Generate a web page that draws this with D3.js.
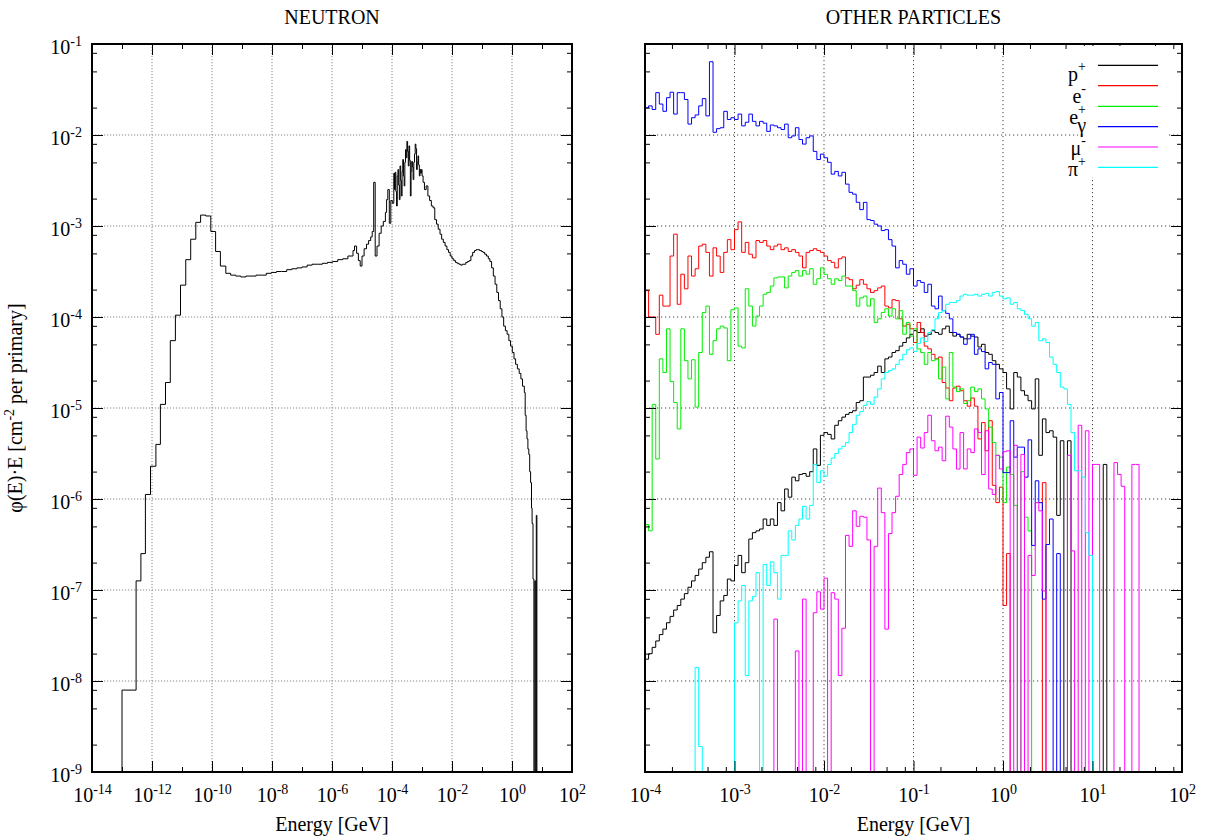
<!DOCTYPE html>
<html><head><meta charset="utf-8">
<script src="https://cdn.jsdelivr.net/npm/d3@7"></script>
<style>
body{margin:0;background:#fff;}
svg text{font-family:"Liberation Serif","Times New Roman",serif;fill:#000;}
</style>
</head><body>
<svg id="chart" width="1213" height="840"></svg>
<script>
// ---------------- DATA ----------------
// Left panel: neutron spectrum, bin lower edges (log10 E/GeV) and log10 of phi(E)*E
const neutronEdgeExp = [
-13.00,-12.53,-12.37,-12.22,-12.05,-11.87,-11.72,-11.55,-11.39,-11.22,
-11.05,-10.875,-10.71,-10.54,-10.38,-10.21,-10.04,-9.88,-9.72,-9.54,
-9.38,-9.21,-9.04,-8.87,-8.70,-8.53,-8.36,-8.19,-8.02,-7.85,
-7.68,-7.51,-7.34,-7.17,-7.00,-6.83,-6.66,-6.49,-6.32,-6.15,
-5.98,-5.81,-5.64,-5.47,-5.30,-5.25,-5.18,-5.12,-5.06,-5.00,
-4.93,-4.85,-4.78,-4.71,-4.66,-4.61,-4.56,-4.50,-4.43,-4.36,
-4.29,-4.22,-4.18,-4.14,-4.09,-4.04,-3.99,
-3.94,-3.917,-3.894,-3.871,-3.848,-3.825,-3.802,-3.779,-3.756,-3.733,
-3.71,-3.687,-3.664,-3.641,-3.618,-3.595,-3.572,-3.549,-3.526,-3.503,
-3.48,-3.457,-3.434,-3.411,-3.388,-3.365,-3.342,-3.319,-3.296,-3.273,
-3.25,-3.227,-3.204,-3.181,-3.158,-3.135,-3.112,-3.089,-3.066,-3.043,
-3.02,-2.997,-2.964,-2.918,-2.861,-2.804,-2.746,-2.689,-2.63,-2.574,
-2.516,-2.459,-2.40,-2.345,-2.29,-2.23,-2.17,-2.115,-2.06,-2.00,
-1.94,-1.885,-1.83,-1.77,-1.71,-1.656,-1.60,-1.54,-1.48,-1.426,
-1.37,-1.311,-1.25,-1.196,-1.14,-1.082,-1.02,-0.967,-0.91,-0.852,
-0.79,-0.737,-0.68,-0.622,-0.565,-0.507,-0.45,-0.393,-0.335,-0.278,
-0.22,-0.163,-0.105,-0.048,0.01,0.067,0.12,0.18,0.24,0.296,
0.35,0.411,0.44,0.47,0.50,0.53,0.56,0.59,0.62,0.65,
0.67,0.70,0.73,0.76,0.79,0.81,0.83
];
const neutronLastEdgeExp = 0.85;
const neutronLogPhi = [
-8.10,-6.90,-6.60,-5.95,-5.64,-5.40,-4.96,-4.72,-4.26,-3.98,
-3.65,-3.37,-3.145,-2.96,-2.88,-2.89,-3.06,-3.28,-3.44,-3.52,
-3.54,-3.55,-3.56,-3.55,-3.55,-3.54,-3.54,-3.52,-3.51,-3.50,
-3.50,-3.48,-3.47,-3.46,-3.45,-3.43,-3.42,-3.42,-3.41,-3.40,
-3.39,-3.37,-3.36,-3.33,-3.27,-3.22,-3.30,-3.38,-3.44,-3.33,
-3.25,-3.20,-3.16,-3.12,-3.06,-2.52,-3.33,-3.22,-3.08,-3.00,
-2.95,-2.85,-2.71,-2.60,-2.97,-2.72,-2.75,
-2.42,-2.60,-2.41,-2.62,-2.78,-2.45,-2.38,-2.55,-2.71,-2.34,
-2.50,-2.67,-2.40,-2.27,-2.45,-2.56,-2.30,-2.16,-2.25,-2.07,
-2.18,-2.34,-2.12,-2.28,-2.67,-2.40,-2.29,-2.35,-2.49,-2.30,
-2.21,-2.10,-2.15,-2.38,-2.30,-2.23,-2.33,-2.45,-2.38,-2.42,
-2.38,-2.45,-2.52,-2.60,-2.56,-2.67,-2.72,-2.78,-2.80,-2.93,
-2.98,-3.035,-3.09,-3.145,-3.18,-3.22,-3.26,-3.29,-3.33,-3.36,
-3.38,-3.40,-3.41,-3.42,-3.43,-3.42,-3.42,-3.40,-3.39,-3.38,
-3.33,-3.29,-3.27,-3.26,-3.26,-3.27,-3.28,-3.29,-3.31,-3.33,
-3.36,-3.39,-3.46,-3.55,-3.64,-3.73,-3.82,-3.91,-4.00,-4.10,
-4.15,-4.19,-4.26,-4.32,-4.39,-4.46,-4.52,-4.57,-4.62,-4.68,
-4.76,-4.83,-5.08,-5.25,-5.34,-5.45,-5.51,-5.70,-5.82,-6.10,
-6.27,-6.88,null,-6.90,null,-6.18,null
];

// Right panel: 25 bins per decade starting at 1e-4 GeV; values are log10 of phi(E)*E, null = empty bin
const otherBinStartExp = -4;
const otherBinWidthExp = 0.04;
const protonLog = [
-7.76,-7.70,-7.63,-7.56,-7.49,-7.43,-7.36,-7.29,-7.22,-7.17,
-7.10,-7.04,-6.97,-6.90,-6.84,-6.77,-6.70,-6.64,-6.58,-7.47,
-7.28,-7.12,-7.06,-6.88,-6.90,-6.73,-6.62,-6.81,-6.70,-6.44,
-6.37,-6.35,-6.33,-6.22,-6.29,-6.22,-6.29,-6.04,-6.13,-5.89,
-5.98,-5.76,-5.80,-5.73,-5.72,-5.75,-5.70,-5.45,-5.63,-5.30,
-5.27,-5.29,-5.34,-5.19,-5.14,-5.10,-5.07,-5.05,-5.03,-4.94,
-4.92,-4.66,-4.66,-4.64,-4.61,-4.54,-4.61,-4.46,-4.44,-4.39,
-4.37,-4.32,-4.28,-4.23,-4.19,-4.15,-4.17,-4.13,-4.21,-4.19,
-4.15,-4.17,-4.19,-4.13,-4.10,-4.17,-4.21,-4.19,-4.22,-4.24,
-4.19,-4.21,-4.22,-4.33,-4.30,-4.39,-4.41,-4.48,-4.52,-4.57,
-4.61,-4.79,-5.01,-4.61,-4.66,-4.81,-4.86,-4.92,-5.01,-4.68,
-5.52,-5.12,-5.27,-5.25,-5.32,-6.18,-5.36,null,-5.36,null,
null,null,null,null,null,null,null,null,-5.62,null,
null,null,null,null,null,null,null,null,null,null
];
const electronLog = [
-3.71,-4.00,-4.00,-4.19,-3.76,-3.88,-3.88,-3.33,-3.09,-3.86,
-3.53,-3.69,-3.33,-3.55,-3.47,-3.22,-3.20,-3.29,-3.55,-3.24,
-3.33,-3.51,-3.29,-3.15,-3.26,-3.04,-2.955,-3.29,-3.18,-3.31,
-3.35,-3.16,-3.18,-3.16,-3.22,-3.26,-3.22,-3.20,-3.26,-3.24,
-3.28,-3.26,-3.29,-3.33,-3.46,-3.29,-3.27,-3.25,-3.27,-3.29,
-3.33,-3.38,-3.40,-3.46,-3.36,-3.34,-3.57,-3.59,-3.69,-3.65,
-3.59,-3.64,-3.69,-3.73,-3.71,-3.68,-3.66,-3.88,-3.90,-3.81,
-3.82,-4.02,-4.10,-4.08,-4.13,-4.28,-4.06,-4.17,-4.32,-4.35,
-4.41,-4.46,-4.44,-4.72,-4.78,-4.92,-4.78,-4.76,-4.81,-4.92,
-4.98,-4.89,-4.98,-5.34,-5.16,-5.47,-5.14,-5.85,-6.04,-5.87,
-7.17,-6.60,null,null,null,null,null,null,null,null,
null,-5.82,null,null,null,null,null,null,null,null,
null,null,null,null,null,null,null,null,null,null,
null,null,null,null,null,null,null,null,null,null
];
const positronLog = [
-6.28,-6.35,-4.96,-5.56,-4.46,-4.61,-4.13,-4.71,-4.94,-5.23,
-4.13,-4.48,-4.68,-4.47,-4.99,-4.39,-3.95,-3.88,-4.41,-4.26,
-4.13,-4.10,-4.12,-4.48,-3.92,-3.90,-4.32,-4.34,-3.69,-3.88,
-4.10,-3.99,-3.88,-3.75,-3.73,-3.66,-3.57,-3.56,-3.56,-3.68,
-3.55,-3.51,-3.49,-3.55,-3.49,-3.53,-3.47,-3.64,-3.58,-3.46,
-3.53,-3.58,-3.64,-3.58,-3.60,-3.55,-3.66,-3.66,-3.71,-3.88,
-3.79,-3.77,-3.88,-3.80,-4.06,-4.02,-3.95,-3.91,-3.99,-3.91,
-4.02,-3.93,-4.19,-4.06,-4.21,-4.13,-4.35,-4.39,-4.52,-4.39,
-4.48,-4.46,-4.68,-4.55,-4.90,-4.39,-4.77,-4.82,-4.79,-4.95,
-4.92,-4.77,-4.82,-4.79,-4.90,-5.01,-5.21,-5.38,-5.52,-5.54,
-6.04,-5.65,-5.73,-6.07,null,-5.70,-6.20,-6.35,null,null,
null,null,null,null,null,null,null,null,null,null,
null,null,null,null,null,null,null,null,null,null,
null,null,null,null,null,null,null,null,null,null
];
const gammaLog = [
-1.70,-1.68,-1.72,-1.535,-1.66,-1.74,-1.59,-1.53,-1.77,-1.535,
-1.535,-1.61,-1.88,-1.81,-1.78,-1.68,-1.60,-1.79,-1.195,-1.97,
-1.93,-1.92,-1.74,-1.83,-1.81,-1.83,-1.77,-1.90,-1.86,-1.77,
-1.85,-1.90,-1.85,-1.87,-1.96,-1.89,-1.90,-1.92,-1.94,-1.88,
-2.03,-2.01,-1.92,-2.05,-2.10,-2.03,-2.01,-2.18,-2.27,-2.21,
-2.25,-2.30,-2.43,-2.40,-2.45,-2.41,-2.54,-2.63,-2.65,-2.74,
-2.82,-2.74,-2.93,-2.94,-2.98,-3.00,-3.05,-3.04,-3.15,-3.22,
-3.46,-3.38,-3.42,-3.53,-3.47,-3.66,-3.60,-3.62,-3.73,-3.64,
-3.88,-3.91,-3.77,-3.93,-3.96,-4.02,-4.17,-4.19,-4.22,-4.30,
-4.24,-4.19,-4.41,-4.35,-4.38,-4.57,-4.50,-4.52,-4.90,-4.83,
-5.71,-5.71,-5.14,-5.54,-5.43,-5.43,-5.76,-5.35,-6.51,-5.80,
-6.04,-7.10,-6.50,-6.22,null,-6.60,null,null,null,null,
null,null,null,null,null,null,null,null,null,null,
null,null,null,null,null,null,null,null,null,null
];
const muonLog = [
null,null,null,null,null,null,null,null,null,null,
null,null,null,null,null,null,null,null,null,null,
null,null,null,null,null,null,null,null,null,null,
null,null,null,null,null,null,-7.32,null,null,null,
null,null,-7.67,null,-7.10,null,null,-7.25,-7.02,-7.21,
-6.87,null,-7.03,-7.10,-7.94,-7.42,-6.40,-6.52,-6.13,-6.30,
-6.19,-6.20,-6.45,null,-6.52,-5.88,-6.15,-7.43,-6.38,-6.15,
-5.97,-5.73,-5.62,-5.49,-5.45,-5.74,-5.32,-5.44,-5.27,-5.08,
-5.36,-5.47,-5.43,-5.58,-5.09,-5.21,-5.45,-5.67,-5.27,-5.67,
-5.45,-5.49,-5.23,-5.27,-5.73,-5.25,-5.89,-5.95,-5.52,-5.67,
-5.48,-5.47,null,-5.41,null,-5.51,null,-6.62,-6.84,-6.04,
-6.13,-7.01,null,null,null,null,null,null,-5.52,-6.57,
null,-5.19,null,-5.25,null,-5.62,-5.62,null,null,null,
null,-5.60,-5.73,-5.86,null,null,-5.62,-5.62,null,null
];
const pionLog = [
null,null,null,null,null,null,null,null,null,null,
null,null,null,null,-7.85,-8.72,null,null,null,null,
null,null,null,null,null,-7.36,-7.12,-6.95,-7.94,-7.12,
-7.07,-6.81,null,-6.72,-6.95,-6.69,-6.81,-7.10,-6.62,-6.62,
-6.35,-6.45,-6.29,-6.22,-6.08,-6.22,-6.07,-5.62,-5.82,-5.69,
-5.75,-5.62,-5.55,-5.50,-5.45,-5.42,-5.38,-5.27,-5.18,-5.08,
-5.04,-4.97,-4.93,-4.96,-4.88,-4.79,-4.68,-4.61,-4.59,-4.57,
-4.52,-4.47,-4.41,-4.36,-4.34,-4.38,-4.29,-4.23,-4.27,-4.17,
-4.14,-4.02,-3.95,-3.93,-3.86,-3.84,-3.84,-3.82,-3.77,-3.75,
-3.76,-3.76,-3.75,-3.77,-3.75,-3.74,-3.77,-3.73,-3.72,-3.77,
-3.80,-3.79,-3.86,-3.84,-3.91,-3.93,-3.97,-4.02,-4.10,-4.06,
-4.26,-4.24,-4.28,-4.44,-4.52,-4.61,-4.77,-4.79,-4.96,-5.27,
-5.69,-5.69,-5.76,-6.37,-6.62,null,null,null,null,null,
null,null,null,null,null,null,null,null,null,null
];

const seriesBase = ["p", "e", "e", "γ", "μ", "π"];
const seriesSup = ["+", "-", "+", "", "-", "+"];
const seriesColors = ["#000000", "#ff0000", "#00ee00", "#0000ff", "#ff00ff", "#00ffff"];
const seriesData = [protonLog, electronLog, positronLog, gammaLog, muonLog, pionLog];

const panelTitles = ["NEUTRON", "OTHER PARTICLES"];
const xAxisTitle = "Energy [GeV]";
const leftXTickExps = [-14,-12,-10,-8,-6,-4,-2,0,2];
const leftXMinorExps = [-13,-11,-9,-7,-5,-3,-1,1];
const rightXTickExps = [-4,-3,-2,-1,0,1,2];
const yTickExps = [-9,-8,-7,-6,-5,-4,-3,-2,-1];
const minorMantissas = [2,5,8];

// ---------------- LAYOUT ----------------
const svg = d3.select("#chart");
const FONT = '"Liberation Serif","Times New Roman",serif';
const plotTop = 44, plotBottom = 772;
const PL = {x0: 92, x1: 572};
const PR = {x0: 645, x1: 1182};
const BELOW = 1e-12; // empty bins are drawn down past the bottom and clipped

const yS = d3.scaleLog().domain([1e-9, 1e-1]).range([plotBottom, plotTop]);
const xL = d3.scaleLog().domain([1e-14, 1e2]).range([PL.x0, PL.x1]);
const xR = d3.scaleLog().domain([1e-4, 1e2]).range([PR.x0, PR.x1]);

const yMinor = [];
for (let k = -9; k <= -2; k++) for (const m of minorMantissas) yMinor.push(m * Math.pow(10, k));
const rxMinor = [];
for (let k = -4; k < 2; k++) for (const m of minorMantissas) rxMinor.push(m * Math.pow(10, k));

function supLabel(sel) {
  sel.each(function(d) {
    const t = d3.select(this);
    const e = Math.round(Math.log10(d));
    t.text(null);
    t.append("tspan").text("10");
    t.append("tspan").attr("dy", -8).attr("font-size", 14).text(String(e));
  });
}

function drawPanel(x, p, xMajorExps, xMinorVals, gridColor, gridDash, showYLabels, title, clipId) {
  const root = svg.append("g");
  const gridG = root.append("g");
  const dataG = root.append("g").attr("clip-path", `url(#${clipId})`);
  const axes = root.append("g");
  const xMajor = xMajorExps.map(e => Math.pow(10, e));
  const gx = xMajor.filter(v => x(v) > p.x0 + 1 && x(v) < p.x1 - 1);
  const gy = yTickExps.slice(1, -1).map(e => Math.pow(10, e));
  gridG.append("g").selectAll("line").data(gx).join("line")
    .attr("x1", d => x(d)).attr("x2", d => x(d)).attr("y1", plotTop).attr("y2", plotBottom)
    .attr("stroke", gridColor).attr("stroke-width", 1).attr("stroke-dasharray", gridDash);
  gridG.append("g").selectAll("line").data(gy).join("line")
    .attr("x1", p.x0).attr("x2", p.x1).attr("y1", d => yS(d)).attr("y2", d => yS(d))
    .attr("stroke", gridColor).attr("stroke-width", 1).attr("stroke-dasharray", gridDash);

  svg.append("clipPath").attr("id", clipId).append("rect")
    .attr("x", p.x0).attr("y", plotTop).attr("width", p.x1 - p.x0).attr("height", plotBottom - plotTop);

  function styleAxis(a) {
    a.select(".domain").remove();
    a.selectAll(".tick line").attr("stroke", "#000").attr("stroke-width", 1);
    a.attr("font-family", FONT).attr("font-size", 20);
  }
  const yMajor = yTickExps.map(e => Math.pow(10, e));
  const ab = axes.append("g").attr("transform", `translate(0,${plotBottom})`)
    .call(d3.axisBottom(x).tickValues(xMajor).tickSizeInner(-11).tickSizeOuter(0).tickPadding(0));
  styleAxis(ab);
  ab.selectAll(".tick text").attr("y", 30).attr("dy", 0).attr("fill", "#000").call(supLabel);
  styleAxis(axes.append("g").attr("transform", `translate(0,${plotBottom})`)
    .call(d3.axisBottom(x).tickValues(xMinorVals).tickSizeInner(-5).tickSizeOuter(0).tickFormat("")));
  styleAxis(axes.append("g").attr("transform", `translate(0,${plotTop})`)
    .call(d3.axisTop(x).tickValues(xMajor).tickSizeInner(-11).tickSizeOuter(0).tickFormat("")));
  styleAxis(axes.append("g").attr("transform", `translate(0,${plotTop})`)
    .call(d3.axisTop(x).tickValues(xMinorVals).tickSizeInner(-5).tickSizeOuter(0).tickFormat("")));
  const al = axes.append("g").attr("transform", `translate(${p.x0},0)`)
    .call(d3.axisLeft(yS).tickValues(yMajor).tickSizeInner(-11).tickSizeOuter(0).tickPadding(0));
  styleAxis(al);
  if (showYLabels) {
    al.selectAll(".tick text").attr("x", -10).attr("dy", 0).attr("y", 9).attr("fill", "#000").call(supLabel);
  } else {
    al.selectAll(".tick text").remove();
  }
  styleAxis(axes.append("g").attr("transform", `translate(${p.x0},0)`)
    .call(d3.axisLeft(yS).tickValues(yMinor).tickSizeInner(-5).tickSizeOuter(0).tickFormat("")));
  styleAxis(axes.append("g").attr("transform", `translate(${p.x1},0)`)
    .call(d3.axisRight(yS).tickValues(yMajor).tickSizeInner(-11).tickSizeOuter(0).tickFormat("")));
  styleAxis(axes.append("g").attr("transform", `translate(${p.x1},0)`)
    .call(d3.axisRight(yS).tickValues(yMinor).tickSizeInner(-5).tickSizeOuter(0).tickFormat("")));
  axes.append("rect").attr("x", p.x0).attr("y", plotTop).attr("width", p.x1 - p.x0).attr("height", plotBottom - plotTop)
    .attr("fill", "none").attr("stroke", "#000").attr("stroke-width", 2);
  root.append("text").attr("x", (p.x0 + p.x1) / 2).attr("y", 24).attr("text-anchor", "middle")
    .attr("font-size", 20).text(title);
  root.append("text").attr("x", (p.x0 + p.x1) / 2).attr("y", 831).attr("text-anchor", "middle")
    .attr("font-size", 20).text(xAxisTitle);
  return {root, dataG, axes};
}

function stepPath(edgesExp, vals, x) {
  const pts = [];
  const yv = v => (v === null ? yS(BELOW) : yS(Math.pow(10, v)));
  pts.push([x(Math.pow(10, edgesExp[0])), yS(BELOW)]);
  for (let i = 0; i < vals.length; i++) {
    const yy = yv(vals[i]);
    pts.push([x(Math.pow(10, edgesExp[i])), yy]);
    pts.push([x(Math.pow(10, edgesExp[i + 1])), yy]);
  }
  pts.push([x(Math.pow(10, edgesExp[edgesExp.length - 1])), yS(BELOW)]);
  return d3.line()(pts);
}

// ---------- left panel ----------
const panelL = drawPanel(xL, PL, leftXTickExps, leftXMinorExps.map(e => Math.pow(10, e)), "#888", "1.2,1.8", true, panelTitles[0], "clipL");
const nEdges = neutronEdgeExp.concat([neutronLastEdgeExp]);
panelL.dataG.append("path")
  .attr("d", stepPath(nEdges, neutronLogPhi, xL))
  .attr("fill", "none").attr("stroke", "#000").attr("stroke-width", 1);

// ---------- right panel ----------
const panelR = drawPanel(xR, PR, rightXTickExps, rxMinor, "#444", "1.2,2.8", false, panelTitles[1], "clipR");
seriesData.forEach((vals, si) => {
  const edges = vals.map((v, i) => otherBinStartExp + i * otherBinWidthExp);
  edges.push(otherBinStartExp + vals.length * otherBinWidthExp);
  panelR.dataG.append("path").attr("d", stepPath(edges, vals, xR))
    .attr("fill", "none").attr("stroke", seriesColors[si]).attr("stroke-width", 1);
});

// legend
const lg = svg.append("g");
lg.append("rect").attr("x", 1078).attr("y", 46).attr("width", 90).attr("height", 131).attr("fill", "#fff");
const rowY = [65.3, 85.7, 106.3, 126.7, 147, 167.3];
const labelBaseline = [81, 103, 124, 132, 155, 176];
seriesBase.forEach((n, i) => {
  lg.append("line").attr("x1", 1098).attr("x2", 1158).attr("y1", rowY[i]).attr("y2", rowY[i])
    .attr("stroke", seriesColors[i]).attr("stroke-width", 1.2);
  const t = lg.append("text").attr("x", 1086).attr("y", labelBaseline[i]).attr("text-anchor", "end").attr("font-size", 20);
  t.append("tspan").text(seriesBase[i]);
  if (seriesSup[i]) t.append("tspan").attr("dy", -10).attr("font-size", 14).text(seriesSup[i]);
});

// y axis title
const yt = svg.append("text").attr("transform", "translate(22,408) rotate(-90)").attr("text-anchor", "middle").attr("font-size", 20);
yt.append("tspan").text("φ(E)·E [cm");
yt.append("tspan").attr("dy", -8).attr("font-size", 14).text("-2");
yt.append("tspan").attr("dy", 8).text(" per primary]");
</script>
</body></html>
